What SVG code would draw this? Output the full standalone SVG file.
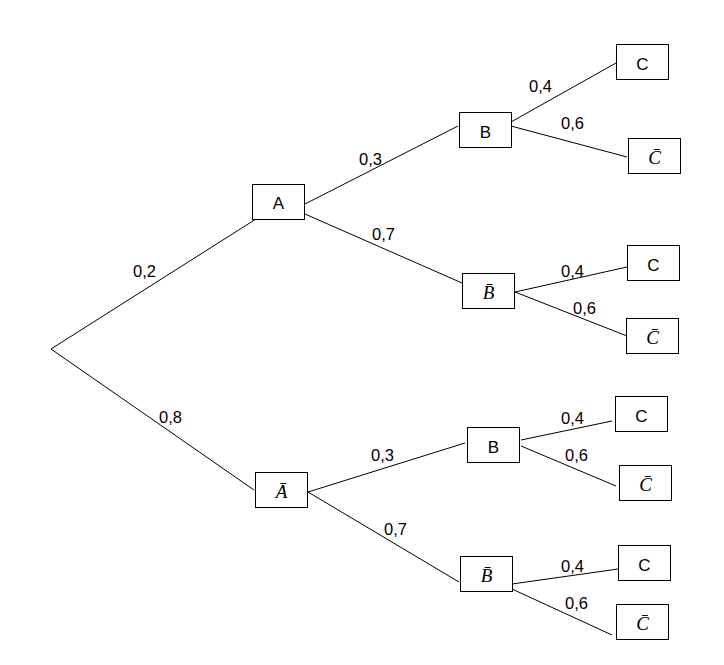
<svg xmlns="http://www.w3.org/2000/svg" width="724" height="665" viewBox="0 0 724 665">
<style>
.box{fill:#fff;stroke:#000;stroke-width:1}
.t{font-family:"Liberation Sans",Arial,sans-serif;font-size:17px;text-anchor:middle;fill:#000}
.it{font-family:"Liberation Serif","DejaVu Serif",serif;font-style:italic;font-size:19px;text-anchor:middle;fill:#000}
.lbl{font-family:"Liberation Sans",Arial,sans-serif;font-size:16.5px;fill:#000}
.edge{stroke:#000;stroke-width:1;fill:none}
</style>
<rect width="724" height="665" fill="#fff"/>
<g id="connectors">
<line class="edge" x1="51" y1="349" x2="256" y2="219"/>
<line class="edge" x1="51" y1="349" x2="254" y2="490"/>
<line class="edge" x1="305" y1="204" x2="458" y2="126"/>
<line class="edge" x1="305" y1="214" x2="462" y2="283"/>
<line class="edge" x1="511" y1="122" x2="616" y2="63"/>
<line class="edge" x1="511" y1="126" x2="627" y2="157"/>
<line class="edge" x1="515" y1="292" x2="627" y2="267"/>
<line class="edge" x1="515" y1="292" x2="627" y2="336"/>
<line class="edge" x1="308" y1="492" x2="465" y2="443"/>
<line class="edge" x1="308" y1="492" x2="459" y2="582"/>
<line class="edge" x1="521" y1="440" x2="612" y2="421"/>
<line class="edge" x1="521" y1="446" x2="616" y2="486"/>
<line class="edge" x1="512" y1="584" x2="618" y2="569"/>
<line class="edge" x1="512" y1="589" x2="612" y2="635"/>
</g>
<g id="labels">
<text class="lbl" x="133" y="277">0,2</text>
<text class="lbl" x="159" y="423">0,8</text>
<text class="lbl" x="359" y="165">0,3</text>
<text class="lbl" x="372" y="240">0,7</text>
<text class="lbl" x="529" y="92">0,4</text>
<text class="lbl" x="561" y="129">0,6</text>
<text class="lbl" x="561" y="277">0,4</text>
<text class="lbl" x="573" y="314">0,6</text>
<text class="lbl" x="371" y="461">0,3</text>
<text class="lbl" x="384" y="535">0,7</text>
<text class="lbl" x="561" y="424">0,4</text>
<text class="lbl" x="565" y="461">0,6</text>
<text class="lbl" x="561" y="572">0,4</text>
<text class="lbl" x="565" y="609">0,6</text>
</g>
<g id="node-A"><rect class="box" x="252.5" y="184.5" width="52" height="35"/><text class="t" x="278.5" y="209">A</text></g>
<g id="node-B1"><rect class="box" x="459.5" y="112.5" width="52" height="35"/><text class="t" x="485.5" y="138">B</text></g>
<g id="node-Bbar1"><rect class="box" x="462.5" y="273.5" width="52" height="35"/><text class="it" x="488.5" y="299">B̄</text></g>
<g id="node-C1"><rect class="box" x="616.5" y="44.5" width="52" height="35"/><text class="t" x="642.5" y="70">C</text></g>
<g id="node-Cbar1"><rect class="box" x="628.5" y="138.5" width="52" height="35"/><text class="it" x="654.5" y="164">C̄</text></g>
<g id="node-C2"><rect class="box" x="627.5" y="245.5" width="52" height="35"/><text class="t" x="653.5" y="271">C</text></g>
<g id="node-Cbar2"><rect class="box" x="626.5" y="318.5" width="52" height="35"/><text class="it" x="652.5" y="344">C̄</text></g>
<g id="node-Abar"><rect class="box" x="255.5" y="472.5" width="52" height="35"/><text class="it" x="281.5" y="498">Ā</text></g>
<g id="node-B2"><rect class="box" x="467.5" y="427.5" width="52" height="35"/><text class="t" x="493.5" y="453">B</text></g>
<g id="node-Bbar2"><rect class="box" x="460.5" y="556.5" width="52" height="35"/><text class="it" x="486.5" y="582">B̄</text></g>
<g id="node-C3"><rect class="box" x="615.5" y="396.5" width="52" height="35"/><text class="t" x="641.5" y="422">C</text></g>
<g id="node-Cbar3"><rect class="box" x="619.5" y="465.5" width="52" height="35"/><text class="it" x="645.5" y="491">C̄</text></g>
<g id="node-C4"><rect class="box" x="618.5" y="545.5" width="52" height="35"/><text class="t" x="644.5" y="571">C</text></g>
<g id="node-Cbar4"><rect class="box" x="616.5" y="604.5" width="52" height="35"/><text class="it" x="642.5" y="630">C̄</text></g>
</svg>
